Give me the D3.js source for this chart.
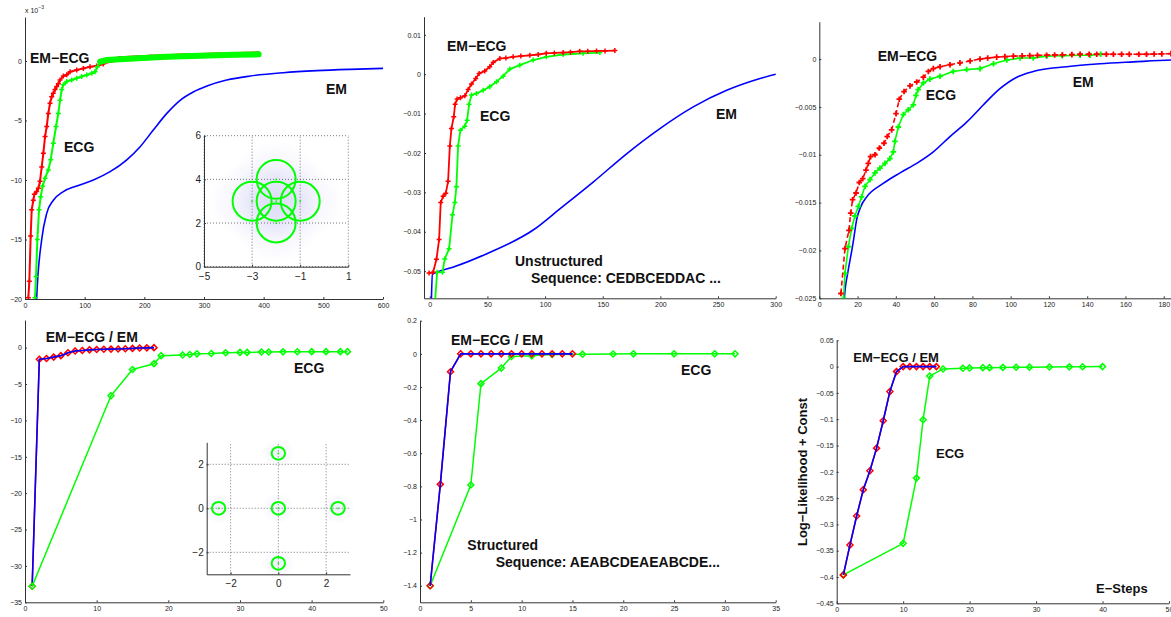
<!DOCTYPE html>
<html>
<head>
<meta charset="utf-8">
<script src="https://cdn.jsdelivr.net/npm/d3@7"></script>
<style>
    body { margin: 0; background: #fff; }
    svg text { font-family: "Liberation Sans", Arial, Helvetica, sans-serif; }
    .axis path, .axis line { stroke: #333; }
    .axis text { fill: #222; font-size: 7px; }
    .inset .axis text { font-size: 10px; }
    .lbl { font-weight: bold; fill: #111; }
</style>
</head>
<body>
<svg id="fig" width="1171" height="617"></svg>
<script>
    "use strict";

    // ---- panel 1 (top left), values in units of 1e-3 ----
    var p1Em = [[18.5, -22], [19.6, -19.9], [28, -15.0], [36.4, -12.8], [47.5, -11.7], [64.3, -10.97], [86.7, -10.5],
        [114.7, -10.0], [142.6, -9.3], [170.6, -8.3], [193, -7.2], [215, -5.8], [237.7, -4.4], [260, -3.3], [282, -2.6],
        [305, -2.1], [338, -1.6], [377.5, -1.26], [433, -0.98], [489, -0.81], [545, -0.70], [600, -0.62]];
    var p1EmEcg = [[5.6, -19.9], [7.3, -18.5], [9.5, -14.7], [11.2, -12.5], [14, -11.7], [15.7, -11.2], [19.6, -10.96],
        [22.4, -10.7], [25.2, -10.1], [28, -8.9], [30.8, -7.75], [33.6, -6.35], [36.4, -5.5], [39.1, -4.4], [41.9, -3.55],
        [44.7, -3.0], [47.5, -2.7], [50.3, -2.4], [53.1, -2.15], [55.9, -1.9], [58.7, -1.6], [64.3, -1.26], [69.9, -1.15],
        [75.5, -0.9], [86.7, -0.76], [97.9, -0.62], [109, -0.48], [120, -0.42], [131, -0.25], [137, 0], [159, 0.2],
        [210, 0.31], [266, 0.42], [322, 0.5], [391, 0.59]];
    var p1Ecg = [[16.8, -19.9], [18.5, -18.1], [20.7, -15.0], [23.5, -12.5], [26.3, -11.4], [29.6, -10.5], [33.6, -9.85],
        [39.1, -9.15], [43.1, -8.3], [47.5, -6.9], [52, -5.5], [55.9, -4.4], [58.7, -3.3], [61.5, -2.4], [64.3, -2.0],
        [69.9, -1.73], [78.3, -1.6], [86.7, -1.45], [95, -1.3], [103.5, -1.17], [111.9, -1.03], [117.4, -0.9],
        [121.4, -0.48], [125.8, -0.06], [137, 0.08], [181.8, 0.22], [237.7, 0.36], [293.6, 0.45], [349.5, 0.53], [391.5, 0.56]];
    var p1XTicks = [0, 100, 200, 300, 400, 500, 600];
    var p1YTicks = [-20, -15, -10, -5, 0];

    // ---- panel 2 (top middle) ----
    var p2Em = [[1.4, -0.0575], [2.3, -0.0508], [6, -0.0503], [20, -0.049], [50, -0.0455], [90, -0.0395],
        [112.8, -0.0342], [141.7, -0.0274], [170.7, -0.0202], [199.6, -0.0138], [228.5, -0.0083], [257.5, -0.0041],
        [286.4, -0.0011], [300, 0]];
    var p2EmEcg = [[-0.6, -0.0505], [2.9, -0.0503], [5.8, -0.047], [8.1, -0.042], [9.5, -0.0326], [11.6, -0.031],
        [13.9, -0.0302], [15.9, -0.0272], [17.4, -0.0182], [18.8, -0.0138], [20.8, -0.0108], [22, -0.0076], [23.7, -0.0063],
        [26.6, -0.006], [30.4, -0.0055], [33.3, -0.0039], [36.2, -0.0025], [39.9, -0.0011], [42.8, 0.0002], [47.7, 0.0008],
        [52, 0.0019], [55, 0.003], [60.8, 0.004], [66, 0.0041], [72.3, 0.0044], [79, 0.0046], [86.8, 0.0048], [94, 0.005],
        [101, 0.0053], [108, 0.0054], [115.7, 0.0055], [122, 0.0056], [130, 0.0058], [137, 0.0058], [144.6, 0.0059],
        [152, 0.0059], [160.5, 0.006]];
    var p2Ecg = [[4.6, -0.0575], [6.4, -0.0503], [11, -0.0503], [13, -0.0469], [16.8, -0.0443], [19.7, -0.0357],
        [21.7, -0.0326], [23.1, -0.0286], [24.6, -0.0182], [26.6, -0.0142], [30.4, -0.0132], [32.4, -0.0117], [34.1, -0.0076],
        [36.2, -0.0053], [40.5, -0.0049], [46.3, -0.0041], [52, -0.0032], [57.9, -0.0019], [63.6, -0.0005], [69.4, 0.0013],
        [78.1, 0.0023], [89.7, 0.0036], [101, 0.0044], [115.7, 0.005], [133, 0.0053], [147.5, 0.0055]];
    var p2XTicks = [0, 50, 100, 150, 200, 250, 300];
    var p2YTicks = [-0.05, -0.04, -0.03, -0.02, -0.01, 0, 0.01];

    // ---- panel 3 (top right) ----
    var p3Em = [[12.5, -0.027], [13.1, -0.025], [15, -0.0222], [16.9, -0.0201], [17.9, -0.0189], [19.5, -0.0168],
        [21.5, -0.0155], [24.8, -0.0144], [33.4, -0.013], [42.2, -0.0119], [50.9, -0.0109], [59.6, -0.0097],
        [68.3, -0.0081], [77, -0.0066], [85.7, -0.0048], [94.4, -0.0031], [103.2, -0.0019], [111.8, -0.0013],
        [129.3, -0.0008], [146.7, -0.0005], [164.1, -0.0003], [183.8, -0.0001], [200, -0.00005]];
    var p3EmEcg = [[11.3, -0.0245], [13.4, -0.0198], [15.5, -0.0179], [16.4, -0.0161], [17.4, -0.0147], [19.2, -0.014],
        [20.9, -0.0129], [22.7, -0.0125], [24.4, -0.0116], [25.6, -0.0109], [26.8, -0.0102], [29.1, -0.01], [31.4, -0.0093],
        [33.8, -0.0088], [35.5, -0.0081], [37.8, -0.0074], [40.1, -0.0057], [41.8, -0.0042], [44.3, -0.0034], [47.4, -0.0028],
        [50.9, -0.0024], [54.4, -0.0019], [57, -0.0013], [59.6, -0.001], [63.1, -0.0008], [68.3, -0.0006], [73.5, -0.0004],
        [78.8, -0.0002], [84, 0], [88, 0.0001], [92.7, 0.0002], [97, 0.00025], [101.4, 0.0003], [106, 0.00033],
        [110, 0.00036], [114, 0.00038], [118.8, 0.0004], [123, 0.00042], [127, 0.00044], [132, 0.00046], [136.3, 0.0005],
        [141, 0.0005], [145, 0.0005], [150, 0.0005], [153.7, 0.0005], [158, 0.0005], [162, 0.0005], [167, 0.0005],
        [171, 0.0005], [175, 0.00052], [179, 0.00054], [183.8, 0.00056], [188, 0.00056], [192, 0.00056], [196, 0.00056]];
    var p3Ecg = [[12.7, -0.025], [13.4, -0.0224], [15.2, -0.0196], [16.9, -0.0177], [18.6, -0.0164], [20.4, -0.0154],
        [22.1, -0.0144], [23.9, -0.0133], [26.5, -0.0126], [29.1, -0.0119], [31.7, -0.0114], [34.3, -0.0109], [36.9, -0.0104],
        [38.7, -0.0097], [39.5, -0.0086], [41.3, -0.0071], [43.9, -0.0058], [46.5, -0.0053], [49.1, -0.0048], [50.5, -0.0038],
        [51.7, -0.0032], [54.4, -0.0025], [57.8, -0.0021], [63.1, -0.0018], [70, -0.0013], [77, -0.0011], [84, -0.001],
        [91, -0.0005], [98, -0.0001], [104.9, 0.0001], [111.8, 0.0001], [118.8, 0.0003], [127, 0.00035], [136.3, 0.0004],
        [141.5, 0.0004], [147, 0.0005]];
    var p3XTicks = [0, 20, 40, 60, 80, 100, 120, 140, 160, 180, 200];
    var p3YTicks = [-0.025, -0.02, -0.015, -0.01, -0.005, 0];

    // ---- panel 4 (bottom left) ----
    var p4Steps = [1, 2, 3, 4, 5, 6, 7, 8, 9, 10, 11, 12, 13, 14, 15, 16, 17, 18];
    var p4EmEcg = [-32.8, -1.6, -1.5, -1.3, -1.1, -0.7, -0.45, -0.4, -0.3, -0.25, -0.22, -0.2, -0.18, -0.15, -0.1, -0.05, -0.03, 0];
    var p4Em = [-32.8, -1.6, -1.5, -1.3, -1.1, -0.7, -0.45, -0.4, -0.3, -0.25, -0.22, -0.2, -0.18, -0.15, -0.1, -0.05, -0.03, 0];
    var p4EcgSteps = [1, 12, 15, 18, 19, 22, 23, 24, 26, 28, 30, 31, 33, 34, 36, 38, 40, 42, 44, 45];
    var p4Ecg = [-32.8, -6.6, -3.0, -2.2, -1.1, -1.0, -0.95, -0.85, -0.8, -0.7, -0.65, -0.65, -0.6, -0.6, -0.58, -0.56,
        -0.55, -0.55, -0.55, -0.55];
    var p4XTicks = [0, 10, 20, 30, 40, 50];
    var p4YTicks = [-35, -30, -25, -20, -15, -10, -5, 0];

    // ---- panel 5 (bottom middle) ----
    var p5Steps = [1, 2, 3, 4, 5, 6, 7, 8, 9, 10, 11, 12, 13, 14, 15];
    var p5EmEcg = [-1.4, -0.788, -0.108, 0, 0, 0, 0, 0, 0, 0, 0, 0, 0, 0, 0];
    var p5Em = [-1.4, -0.788, -0.108, 0, 0, 0, 0, 0, 0, 0, 0, 0, 0, 0, 0];
    var p5EcgSteps = [1, 5, 6, 8, 9, 11, 13, 16, 19, 21, 25, 29, 31];
    var p5Ecg = [-1.4, -0.792, -0.18, -0.086, -0.016, -0.012, -0.004, -0.002, -0.001, 0, 0, 0, 0];
    var p5XTicks = [0, 5, 10, 15, 20, 25, 30, 35];
    var p5YTicks = [-1.4, -1.2, -1, -0.8, -0.6, -0.4, -0.2, 0, 0.2];

    // ---- panel 6 (bottom right) ----
    var p6Steps = [1, 2, 3, 4, 5, 6, 7, 8, 9, 10, 11, 12, 13, 14, 15];
    var p6EmEcg = [-0.396, -0.339, -0.284, -0.234, -0.198, -0.155, -0.103, -0.0475, -0.0095, 0, 0, 0, 0, 0, 0];
    var p6Em = [-0.396, -0.339, -0.284, -0.234, -0.198, -0.155, -0.103, -0.0475, -0.0095, 0, 0, 0, 0, 0, 0];
    var p6EcgSteps = [1, 10, 12, 13, 14, 16, 19, 20, 22, 23, 25, 27, 29, 32, 35, 37, 40];
    var p6Ecg = [-0.396, -0.336, -0.212, -0.101, -0.018, -0.0044, -0.003, -0.0025, -0.002, -0.002, -0.0015, -0.0013,
        -0.001, -0.0008, -0.0005, -0.0003, 0];
    var p6XTicks = [0, 10, 20, 30, 40, 50];
    var p6YTicks = [-0.45, -0.4, -0.35, -0.3, -0.25, -0.2, -0.15, -0.1, -0.05, 0, 0.05];

    // ---- insets: mixture component centres ----
    var inset1Centers = [[-2, 3], [-3, 3], [-1, 3], [-2, 4], [-2, 2]];
    var inset1Radius = [0.81, 0.89];
    var inset1XTicks = [-5, -3, -1, 1];
    var inset1YTicks = [0, 2, 4, 6];
    var inset2Centers = [[0, 2.5], [-2.5, 0], [0, 0], [2.5, 0], [0, -2.5]];
    var inset2Radius = [0.28, 0.29];
    var inset2XTicks = [-2, 0, 2];
    var inset2YTicks = [-2, 0, 2];

    var RED = '#ff0000', GREEN = '#00ff00', BLUE = '#0000ff';
    var fig = d3.select('#fig');

    function pairs(xs, ys) { return d3.zip(xs, ys); }

    function fmtTick(d) {
        return d === 0 ? '0' : String(d).replace('-', '\u2212');
    }

    function markerPath(type, s) {
        if (type === 'diamond') {
            return 'M0,' + (-s) + 'L' + s + ',0L0,' + s + 'L' + (-s) + ',0Z';
        }
        return 'M' + (-s) + ',0H' + s + 'M0,' + (-s) + 'V' + s;   // plus
    }

    // main axes
    function drawPanel(cfg) {
        var x = d3.scaleLinear().domain(cfg.xd).range(cfg.xr);
        var y = d3.scaleLinear().domain(cfg.yd).range(cfg.yr);
        var g = fig.append('g').attr('class', 'panel');

        var cid = 'clip-' + cfg.id;
        g.append('clipPath').attr('id', cid).append('rect')
            .attr('x', cfg.xr[0])
            .attr('y', cfg.yr[1] - 6)
            .attr('width', cfg.xr[1] - cfg.xr[0] + 6)
            .attr('height', cfg.yr[0] - cfg.yr[1] + 6);

        g.append('g').attr('class', 'axis')
            .attr('transform', 'translate(0,' + cfg.yr[0] + ')')
            .call(d3.axisBottom(x).tickValues(cfg.xt).tickSizeInner(-2).tickSizeOuter(0)
                .tickPadding(4).tickFormat(fmtTick));
        g.append('g').attr('class', 'axis')
            .attr('transform', 'translate(' + cfg.xr[0] + ',0)')
            .call(d3.axisLeft(y).tickValues(cfg.yt).tickSizeInner(-2).tickSizeOuter(0)
                .tickPadding(3).tickFormat(fmtTick));

        var plot = g.append('g').attr('clip-path', 'url(#' + cid + ')');
        cfg.series.forEach(function (s) {
            var line = d3.line()
                .x(function (d) { return x(d[0]); })
                .y(function (d) { return y(d[1]); })
                .curve(s.smooth ? d3.curveMonotoneX : d3.curveLinear);
            plot.append('path').datum(s.data)
                .attr('d', line)
                .attr('fill', 'none')
                .attr('stroke', s.color)
                .attr('stroke-width', s.width || 1.5)
                .attr('stroke-dasharray', s.dash || null)
                .attr('stroke-linejoin', 'round');
            //dense marker run drawn as a thick band
            if (s.bandFrom != null) {
                plot.append('path').datum(s.data.filter(function (d) { return d[0] >= s.bandFrom; }))
                    .attr('d', line)
                    .attr('fill', 'none')
                    .attr('stroke', s.color)
                    .attr('stroke-width', s.bandWidth)
                    .attr('stroke-linecap', 'round');
            }
            if (s.marker) {
                plot.append('g').selectAll('path')
                    .data(s.data)
                    .enter()
                    .append('path')
                    .attr('transform', function (d) { return 'translate(' + x(d[0]) + ',' + y(d[1]) + ')'; })
                    .attr('d', markerPath(s.marker, s.msize))
                    .attr('fill', 'none')
                    .attr('stroke', s.color)
                    .attr('stroke-width', s.mwidth || 1.5);
            }
        });

        cfg.texts.forEach(function (t) {
            g.append('text').attr('class', 'lbl')
                .attr('x', t.x).attr('y', t.y)
                .style('font-size', (t.size || 14) + 'px')
                .text(t.t);
        });
    }

    // small scatter insets with component contours
    function drawInset(cfg) {
        var x = d3.scaleLinear().domain(cfg.xd).range(cfg.xr);
        var y = d3.scaleLinear().domain(cfg.yd).range(cfg.yr);
        var g = fig.append('g').attr('class', 'inset');

        g.append('rect')
            .attr('x', cfg.xr[0]).attr('y', cfg.yr[1])
            .attr('width', cfg.xr[1] - cfg.xr[0]).attr('height', cfg.yr[0] - cfg.yr[1])
            .attr('fill', '#fff');

        var grad = fig.select('defs').append('radialGradient').attr('id', 'cloud-' + cfg.id);
        grad.append('stop').attr('offset', '0%').attr('stop-color', '#c4c4f2').attr('stop-opacity', 0.28);
        grad.append('stop').attr('offset', '100%').attr('stop-color', '#c4c4f2').attr('stop-opacity', 0);

        g.selectAll('ellipse.cloud')
            .data(cfg.centers)
            .enter()
            .append('ellipse')
            .attr('class', 'cloud')
            .attr('cx', function (d) { return x(d[0]); })
            .attr('cy', function (d) { return y(d[1]); })
            .attr('rx', Math.abs(x(cfg.cloud) - x(0)))
            .attr('ry', Math.abs(y(cfg.cloud) - y(0)))
            .attr('fill', 'url(#cloud-' + cfg.id + ')');

        // dotted grid
        g.selectAll('line.gx').data(cfg.xt).enter().append('line')
            .attr('x1', function (d) { return x(d); }).attr('x2', function (d) { return x(d); })
            .attr('y1', cfg.yr[0]).attr('y2', cfg.yr[1])
            .attr('stroke', '#555').attr('stroke-width', 0.8).attr('stroke-dasharray', '1,2');
        g.selectAll('line.gy').data(cfg.yt).enter().append('line')
            .attr('y1', function (d) { return y(d); }).attr('y2', function (d) { return y(d); })
            .attr('x1', cfg.xr[0]).attr('x2', cfg.xr[1])
            .attr('stroke', '#555').attr('stroke-width', 0.8).attr('stroke-dasharray', '1,2');

        g.append('g').attr('class', 'axis')
            .attr('transform', 'translate(0,' + cfg.yr[0] + ')')
            .call(d3.axisBottom(x).tickValues(cfg.xt).tickSizeInner(-2).tickSizeOuter(0)
                .tickPadding(6).tickFormat(fmtTick));
        g.append('g').attr('class', 'axis')
            .attr('transform', 'translate(' + cfg.xr[0] + ',0)')
            .call(d3.axisLeft(y).tickValues(cfg.yt).tickSizeInner(-2).tickSizeOuter(0)
                .tickPadding(3).tickFormat(fmtTick));

        g.selectAll('ellipse.comp')
            .data(cfg.centers)
            .enter()
            .append('ellipse')
            .attr('class', 'comp')
            .attr('cx', function (d) { return x(d[0]); })
            .attr('cy', function (d) { return y(d[1]); })
            .attr('rx', Math.abs(x(cfg.radius[0]) - x(0)))
            .attr('ry', Math.abs(y(cfg.radius[1]) - y(0)))
            .attr('fill', 'none')
            .attr('stroke', GREEN)
            .attr('stroke-width', 2);
        g.selectAll('circle.dot')
            .data(cfg.centers)
            .enter()
            .append('circle')
            .attr('cx', function (d) { return x(d[0]); })
            .attr('cy', function (d) { return y(d[1]); })
            .attr('r', 0.9)
            .attr('fill', GREEN);
    }

    fig.append('defs');

    drawPanel({
        id: 'p1', xd: [0, 600], xr: [25, 383], yd: [-20, 3.7], yr: [299, 17],
        xt: p1XTicks, yt: p1YTicks,
        series: [
            { data: p1Em, color: BLUE, smooth: true, width: 1.6 },
            { data: p1EmEcg, color: RED, marker: 'plus', msize: 2.5, width: 2, bandFrom: 137, bandWidth: 5 },
            { data: p1Ecg, color: GREEN, marker: 'plus', msize: 2.5, width: 2, bandFrom: 125.8, bandWidth: 6 }
        ],
        texts: [
            { t: 'EM\u2212ECG', x: 30, y: 63 },
            { t: 'ECG', x: 64, y: 152 },
            { t: 'EM', x: 326, y: 94 }
        ]
    });
    // exponent label of panel 1
    fig.append('text').attr('x', 25).attr('y', 13).style('font-size', '7px').attr('fill', '#222')
        .text('x 10').append('tspan').attr('dy', -4).style('font-size', '5px').text('\u22123');

    drawInset({
        id: 'i1', xd: [-5, 1], xr: [204, 348.3], yd: [0, 6], yr: [266.7, 135.7],
        xt: inset1XTicks, yt: inset1YTicks, centers: inset1Centers, radius: inset1Radius, cloud: 1.8
    });

    drawPanel({
        id: 'p2', xd: [-5, 300], xr: [424, 775.7], yd: [-0.0569, 0.0146], yr: [298.3, 16.7],
        xt: p2XTicks, yt: p2YTicks,
        series: [
            { data: p2Em, color: BLUE, smooth: true, width: 1.6 },
            { data: p2Ecg, color: GREEN, marker: 'plus', msize: 2.5, width: 1.8 },
            { data: p2EmEcg, color: RED, marker: 'plus', msize: 2.5, width: 1.8 }
        ],
        texts: [
            { t: 'EM\u2212ECG', x: 447, y: 51 },
            { t: 'ECG', x: 480, y: 121 },
            { t: 'EM', x: 716, y: 119 },
            { t: 'Unstructured', x: 515, y: 266 },
            { t: 'Sequence:  CEDBCEDDAC ...', x: 531, y: 283 }
        ]
    });

    drawPanel({
        id: 'p3', xd: [0, 200], xr: [819.3, 1202], yd: [-0.025, 0.0039], yr: [298.3, 21.7],
        xt: p3XTicks, yt: p3YTicks,
        series: [
            { data: p3Em, color: BLUE, smooth: true, width: 1.6 },
            { data: p3Ecg, color: GREEN, marker: 'plus', msize: 2.8, width: 1.6, mwidth: 1.8 },
            { data: p3EmEcg, color: RED, marker: 'plus', msize: 2.8, width: 1.6, mwidth: 1.8, dash: '5,3' }
        ],
        texts: [
            { t: 'EM\u2212ECG', x: 877.7, y: 61 },
            { t: 'ECG', x: 925.7, y: 100 },
            { t: 'EM', x: 1072.7, y: 87 }
        ]
    });

    drawPanel({
        id: 'p4', xd: [0, 50], xr: [25, 383.3], yd: [-35, 3.8], yr: [602.3, 320],
        xt: p4XTicks, yt: p4YTicks,
        series: [
            { data: pairs(p4Steps, p4EmEcg), color: RED, marker: 'diamond', msize: 3, width: 1.5 },
            { data: pairs(p4Steps, p4Em), color: BLUE, width: 1.6 },
            { data: pairs(p4EcgSteps, p4Ecg), color: GREEN, marker: 'diamond', msize: 3, width: 1.5 }
        ],
        texts: [
            { t: 'EM\u2212ECG / EM', x: 45.7, y: 342 },
            { t: 'ECG', x: 294, y: 373 }
        ]
    });

    drawInset({
        id: 'i2', xd: [-3, 3], xr: [206.7, 350], yd: [-3, 3], yr: [574.3, 442.3],
        xt: inset2XTicks, yt: inset2YTicks, centers: inset2Centers, radius: inset2Radius, cloud: 0.7
    });

    drawPanel({
        id: 'p5', xd: [0, 35], xr: [420, 775.7], yd: [-1.5, 0.2], yr: [602.3, 320.7],
        xt: p5XTicks, yt: p5YTicks,
        series: [
            { data: pairs(p5EcgSteps, p5Ecg), color: GREEN, marker: 'diamond', msize: 3, width: 1.5 },
            { data: pairs(p5Steps, p5EmEcg), color: RED, marker: 'diamond', msize: 3, width: 1.5 },
            { data: pairs(p5Steps, p5Em), color: BLUE, width: 1.6 }
        ],
        texts: [
            { t: 'EM\u2212ECG / EM', x: 451, y: 345 },
            { t: 'ECG', x: 681, y: 375 },
            { t: 'Structured', x: 467.3, y: 550 },
            { t: 'Sequence: AEABCDEAEABCDE...', x: 495.7, y: 567 }
        ]
    });

    drawPanel({
        id: 'p6', xd: [0, 50], xr: [836.7, 1169], yd: [-0.45, 0.05], yr: [603.3, 340.3],
        xt: p6XTicks, yt: p6YTicks,
        series: [
            { data: pairs(p6EcgSteps, p6Ecg), color: GREEN, marker: 'diamond', msize: 3, width: 1.5 },
            { data: pairs(p6Steps, p6EmEcg), color: RED, marker: 'diamond', msize: 3, width: 1.5 },
            { data: pairs(p6Steps, p6Em), color: BLUE, width: 1.6 }
        ],
        texts: [
            { t: 'EM\u2212ECG / EM', x: 853.3, y: 362, size: 13 },
            { t: 'ECG', x: 936, y: 458, size: 13 },
            { t: 'E\u2212Steps', x: 1096, y: 593, size: 13 }
        ]
    });

    // y label of the last panel
    fig.append('text').attr('class', 'lbl')
        .attr('transform', 'translate(807,472) rotate(-90)')
        .attr('text-anchor', 'middle')
        .style('font-size', '13px')
        .text('Log\u2212Likelihood + Const');
</script>
</body>
</html>
